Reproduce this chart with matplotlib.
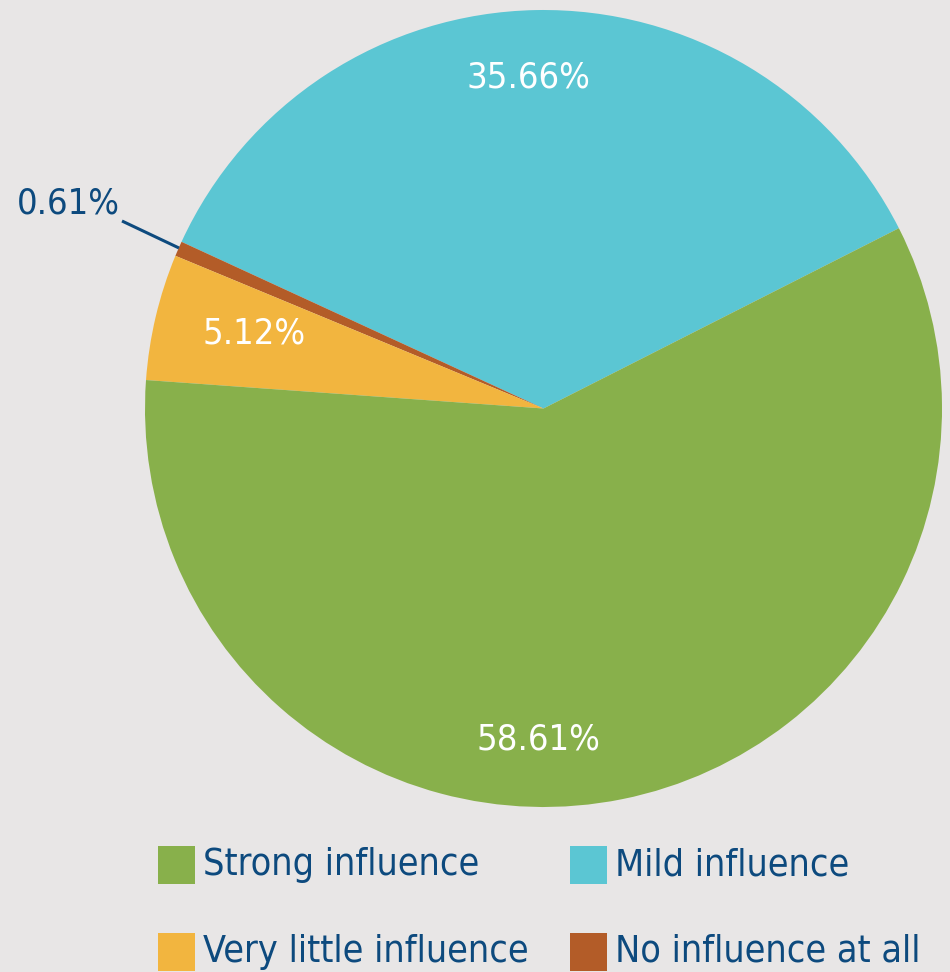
import matplotlib.pyplot as plt
from matplotlib.patches import Rectangle

plt.rcParams["font.family"] = ["DejaVu Sans"]
plt.rcParams["font.stretch"] = "condensed"

# data (pie order, counterclockwise from the right edge)
labels = ["Mild influence", "No influence at all", "Very little influence", "Strong influence"]
values = [35.66, 0.61, 5.12, 58.61]
colors = ["#5bc6d3", "#b35c28", "#f2b53f", "#88b04b"]

# legend order
legend_order = ["Strong influence", "Mild influence", "Very little influence", "No influence at all"]

NAVY = "#0d4a7e"
BG = "#e8e6e6"

fig = plt.figure(figsize=(9.5, 9.72), dpi=100)
fig.patch.set_facecolor(BG)
ax = fig.add_axes([0, 0, 1, 1])

cx, cy, r = 543.5, 563.5, 398.5
wedges, _ = ax.pie(values, colors=colors, startangle=26.9, counterclock=True,
                   center=(cx, cy), radius=r, frame=True,
                   wedgeprops=dict(linewidth=0))
ax.set_xlim(0, 950)
ax.set_ylim(0, 972)
ax.axis("off")

# percentage labels
label_pos = {"Mild influence": (528, 894),
             "Strong influence": (538, 233),
             "Very little influence": (254, 638)}
for lab, val in zip(labels, values):
    if lab in label_pos:
        x, y = label_pos[lab]
        ax.text(x, y, f"{val:.2f}%", color="white", fontsize=26,
                ha="center", va="center")

# small slice label with leader line
ax.text(68, 769, f"{values[1]:.2f}%", color=NAVY, fontsize=26,
        ha="center", va="center")
ax.plot([122, 179], [751, 724], color=NAVY, lw=2.2, solid_capstyle="butt")

# legend
col_of = dict(zip(labels, colors))
leg_x = [158, 570]
leg_y = [865, 952]
for i, lab in enumerate(legend_order):
    x = leg_x[i % 2]
    y = leg_y[i // 2]
    ax.add_patch(Rectangle((x, 972 - y - 19), 37, 38, color=col_of[lab], lw=0))
    ax.text(x + 45, 972 - y, lab, color=NAVY, fontsize=27, ha="left", va="center")

fig.savefig("out.png", dpi=100, facecolor=BG)
